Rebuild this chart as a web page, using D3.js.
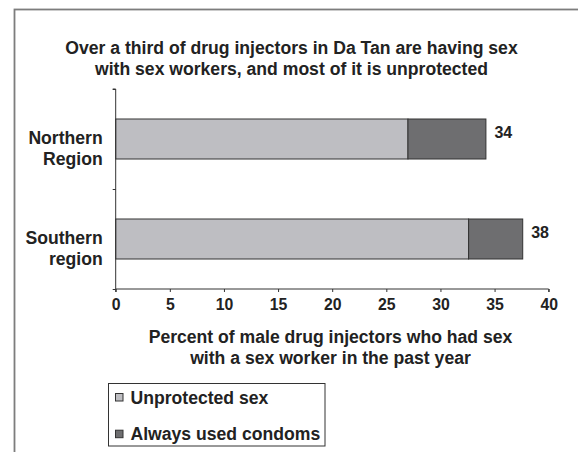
<!DOCTYPE html>
<html>
<head>
<meta charset="utf-8">
<script src="https://cdn.jsdelivr.net/npm/d3@7"></script>
<style>
  html, body { margin: 0; padding: 0; background: #fff; }
  svg text { font-family: "Liberation Sans", Arial, sans-serif; font-weight: bold; fill: #222; }
</style>
</head>
<body>
<svg id="chart" width="578" height="452"></svg>
<script>
// ---- data ----
const categories = ["Northern Region", "Southern region"];
const categoryLines = [["Northern", "Region"], ["Southern", "region"]];
const unprotected = [27.0, 32.6];
const condoms = [7.2, 5.0];
const totalLabels = ["34", "38"];
const seriesNames = ["Unprotected sex", "Always used condoms"];
const seriesColors = ["#bebec2", "#6e6e70"];
const xTicks = [0, 5, 10, 15, 20, 25, 30, 35, 40];
const titleLines = ["Over a third of drug injectors in Da Tan are having sex",
                    "with sex workers, and most of it is unprotected"];
const xTitleLines = ["Percent of male drug injectors who had sex",
                     "with a sex worker in the past year"];

const svg = d3.select("#chart");

// frame (partially visible border)
svg.append("rect").attr("x", 14.5).attr("y", 9.5).attr("width", 620).attr("height", 500)
  .attr("fill", "none").attr("stroke", "#7d7d7d").attr("stroke-width", 1.8);

const x = d3.scaleLinear().domain([0, 40]).range([115.7, 548.7]);
const y = d3.scaleBand().domain(categories).range([89, 289])
  .paddingInner(0.6).paddingOuter(0.3);

// title
svg.append("g").selectAll("text").data(titleLines).join("text")
  .attr("x", 291.5).attr("y", (d, i) => 54 + i * 21)
  .attr("text-anchor", "middle").attr("font-size", 17.6).text(d => d);

// bars
const rows = categories.map((c, i) => ({c, u: unprotected[i], k: condoms[i], lab: totalLabels[i], lines: categoryLines[i]}));
const bars = svg.append("g");
bars.selectAll("rect.u").data(rows).join("rect").attr("class", "u")
  .attr("x", x(0)).attr("y", d => y(d.c))
  .attr("width", d => x(d.u) - x(0)).attr("height", y.bandwidth())
  .attr("fill", seriesColors[0]).attr("stroke", "#333").attr("stroke-width", 1);
bars.selectAll("rect.k").data(rows).join("rect").attr("class", "k")
  .attr("x", d => x(d.u)).attr("y", d => y(d.c))
  .attr("width", d => x(d.u + d.k) - x(d.u)).attr("height", y.bandwidth())
  .attr("fill", seriesColors[1]).attr("stroke", "#333").attr("stroke-width", 1);

// value labels
bars.selectAll("text.v").data(rows).join("text").attr("class", "v")
  .attr("x", d => x(d.u + d.k) + 8.5)
  .attr("y", d => y(d.c) + y.bandwidth() / 2 - 0.7)
  .attr("font-size", 16).text(d => d.lab);

// category labels
const cl = svg.append("g").selectAll("text").data(rows).join("text")
  .attr("text-anchor", "end").attr("font-size", 17.6);
cl.selectAll("tspan").data(d => d.lines.map((t, j) => ({t, j, d}))).join("tspan")
  .attr("x", 102.7)
  .attr("y", o => y(o.d.c) + y.bandwidth() / 2 + 4.5 + o.j * 21)
  .text(o => o.t);

// y axis (ticks at band boundaries)
const yb = d3.scaleLinear().domain([0, categories.length]).range([89, 289]);
const yAxis = svg.append("g").attr("transform", `translate(${x(0)},0)`)
  .call(d3.axisLeft(yb).tickValues(d3.range(categories.length + 1)).tickSize(3).tickFormat(""));
yAxis.select(".domain").attr("stroke", "#333").attr("d", `M-3,${yb(0)}H0V${yb(categories.length)}`);
yAxis.selectAll(".tick line").attr("stroke", "#333");

// x axis
const xAxis = svg.append("g").attr("transform", "translate(0,289)")
  .call(d3.axisBottom(x).tickValues(xTicks).tickSize(3).tickPadding(7));
xAxis.select(".domain").attr("stroke", "#333").attr("d", `M${x(0)},3V0H${x(40)}V3`);
xAxis.selectAll(".tick line").attr("stroke", "#333");
xAxis.selectAll(".tick text").attr("font-size", 15.8).attr("fill", "#222")
  .style("font-family", "'Liberation Sans', Arial, sans-serif").style("font-weight", "bold");

// x axis title
svg.append("g").selectAll("text").data(xTitleLines).join("text")
  .attr("x", 330.5).attr("y", (d, i) => 342.7 + i * 21.5)
  .attr("text-anchor", "middle").attr("font-size", 17.6).text(d => d);

// legend
const lg = svg.append("g");
lg.append("rect").attr("x", 108.5).attr("y", 383.5).attr("width", 216.5).attr("height", 62.5)
  .attr("fill", "#fff").attr("stroke", "#333").attr("stroke-width", 1);
const items = lg.selectAll("g.item").data(seriesNames).join("g").attr("class", "item")
  .attr("transform", (d, i) => `translate(0,${i * 36.7})`);
items.append("rect").attr("x", 115.5).attr("y", 393.5).attr("width", 7.5).attr("height", 7.5)
  .attr("fill", (d, i) => seriesColors[i]).attr("stroke", "#333").attr("stroke-width", 1);
items.append("text").attr("x", 130.5).attr("y", 403.5).attr("font-size", 17.6).text(d => d);
</script>
</body>
</html>
